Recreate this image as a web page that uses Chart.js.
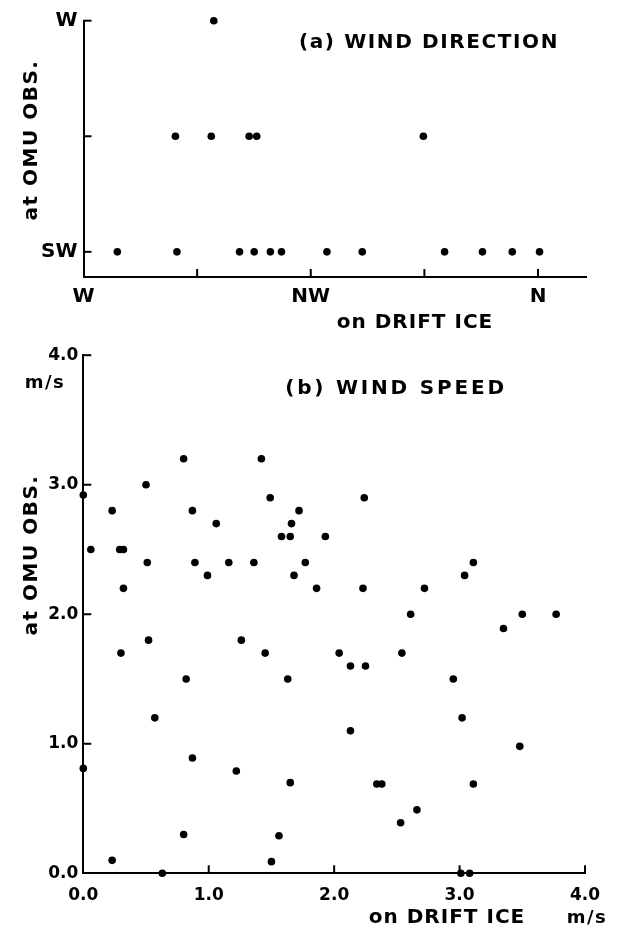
<!DOCTYPE html>
<html><head><meta charset="utf-8">
<script src="https://cdn.jsdelivr.net/npm/chart.js@4.4.0/dist/chart.umd.min.js"></script>
<style>
html,body{margin:0;padding:0;background:#fff;width:623px;height:936px;overflow:hidden}
#a{position:absolute;left:0;top:0}
#b{position:absolute;left:0;top:340px}
</style></head>
<body>
<canvas id="a" width="623" height="340"></canvas>
<canvas id="b" width="623" height="596"></canvas>
<script>
// ---------- (a) wind direction (degrees) ----------
const dirXTickValues = [270, 292.5, 315, 337.5, 360];
const dirXTickLabels = ['W', '', 'NW', '', 'N'];
const dirYTickValues = [225, 247.5, 270];
const dirYTickLabels = ['SW', '', 'W'];
const dirDriftIce = [276.7, 288.5, 300.9, 303.8, 307.0, 309.2, 318.2, 325.2, 341.5, 349.0, 354.9, 360.3,
                     288.2, 295.3, 302.8, 304.3, 337.3,
                     295.8];
const dirOmu      = [225, 225, 225, 225, 225, 225, 225, 225, 225, 225, 225, 225,
                     247.5, 247.5, 247.5, 247.5, 247.5,
                     270];

// ---------- (b) wind speed (m/s) ----------
const spdTickValues = [0, 1, 2, 3, 4];
const spdTickLabels = ['0.0', '1.0', '2.0', '3.0', '4.0'];
const spdDriftIce = [0.80,1.42,0.50,0.00,0.23,0.87,1.49,1.72,1.06,1.66,1.58,1.65,1.93,0.06,0.29,0.32,0.51,0.89,1.16,1.36,
                     1.77,0.99,1.68,0.32,1.86,0.52,1.26,0.30,1.45,0.82,1.63,0.57,0.87,0.00,1.22,1.65,0.80,1.56,0.23,1.50,
                     0.63,2.24,3.11,3.04,2.23,2.72,2.61,3.50,3.77,3.35,2.04,2.54,2.13,2.25,2.95,3.02,2.13,3.48,2.34,2.38,
                     3.11,2.66,2.53,3.01,3.08];
const spdOmu      = [3.2,3.2,3.0,2.92,2.8,2.8,2.9,2.8,2.7,2.7,2.6,2.6,2.6,2.5,2.5,2.5,2.4,2.4,2.4,2.4,
                     2.4,2.3,2.3,2.2,2.2,1.8,1.8,1.7,1.7,1.5,1.5,1.2,0.89,0.81,0.79,0.70,0.30,0.29,0.10,0.09,
                     0.00,2.9,2.4,2.3,2.2,2.2,2.0,2.0,2.0,1.89,1.7,1.7,1.6,1.6,1.5,1.2,1.1,0.98,0.69,0.69,
                     0.69,0.49,0.39,0.0,0.0];

const FONT = "'DejaVu Sans', 'Liberation Sans', sans-serif";

function pts(xs, ys) { return xs.map((x, i) => ({ x: x, y: ys[i] })); }

function decorPlugin(texts, xMarks, yMarks) {
  return {
    id: 'decor',
    afterDraw(chart) {
      const ctx = chart.ctx, xs = chart.scales.x, ys = chart.scales.y;
      const ca = chart.chartArea;
      ctx.save();
      ctx.strokeStyle = '#000';
      ctx.lineWidth = 2;
      xMarks.forEach(v => {
        const px = xs.getPixelForValue(v);
        ctx.beginPath(); ctx.moveTo(px, ca.bottom); ctx.lineTo(px, ca.bottom - 8); ctx.stroke();
      });
      yMarks.forEach(v => {
        const py = ys.getPixelForValue(v);
        ctx.beginPath(); ctx.moveTo(ca.left, py); ctx.lineTo(ca.left + 8, py); ctx.stroke();
      });
      ctx.fillStyle = '#000';
      ctx.textAlign = 'center';
      ctx.textBaseline = 'middle';
      texts.forEach(t => {
        ctx.save();
        ctx.font = 'bold ' + t.size + 'px ' + FONT;
        ctx.letterSpacing = t.ls + 'px';
        ctx.translate(t.x, t.y);
        if (t.rot) ctx.rotate(t.rot);
        ctx.fillText(t.text, 0, 0);
        ctx.restore();
      });
      ctx.restore();
    }
  };
}

function makeChart(id, cfg) {
  const xLab = (v) => { const i = cfg.xt.indexOf(v); return i >= 0 ? cfg.xl[i] : ''; };
  const yLab = (v) => { const i = cfg.yt.indexOf(v); return i >= 0 ? cfg.yl[i] : ''; };
  return new Chart(document.getElementById(id), {
    type: 'scatter',
    data: { datasets: [{
      data: pts(cfg.dx, cfg.dy),
      backgroundColor: '#000', borderColor: '#000', borderWidth: 0,
      pointRadius: 3.8, pointHoverRadius: 3.8, clip: false
    }]},
    options: {
      responsive: false, animation: false, devicePixelRatio: 1,
      layout: { autoPadding: false, padding: cfg.pad },
      plugins: { legend: { display: false }, tooltip: { enabled: false } },
      scales: {
        x: {
          type: 'linear', min: cfg.xmin, max: cfg.xmax,
          afterBuildTicks: s => { s.ticks = cfg.xt.map(v => ({ value: v })); },
          afterFit: s => { s.height = cfg.xH; },
          grid: { display: false, drawTicks: false },
          border: { display: true, color: '#000', width: 2 },
          ticks: { callback: xLab, color: '#000', padding: cfg.xPad, maxRotation: 0, autoSkip: false,
                   font: { family: FONT, size: cfg.xFs, weight: 'bold' } }
        },
        y: {
          type: 'linear', min: cfg.ymin, max: cfg.ymax,
          afterBuildTicks: s => { s.ticks = cfg.yt.map(v => ({ value: v })); },
          afterFit: s => { s.width = cfg.yW; },
          grid: { display: false, drawTicks: false },
          border: { display: true, color: '#000', width: 2 },
          ticks: { callback: yLab, color: '#000', padding: cfg.yPad, autoSkip: false,
                   font: { family: FONT, size: cfg.yFs, weight: 'bold' } }
        }
      }
    },
    plugins: [decorPlugin(cfg.texts, cfg.xMarks, cfg.yMarks)]
  });
}

makeChart('a', {
  dx: dirDriftIce, dy: dirOmu,
  xmin: 270, xmax: 369.5, ymin: 220.1, ymax: 270,
  xt: dirXTickValues, xl: dirXTickLabels, yt: dirYTickValues, yl: dirYTickLabels,
  pad: { left: 0, top: 20.7, right: 37, bottom: 3 },
  xH: 60, yW: 83.5, xPad: 8, yPad: 6, xFs: 20, yFs: 20,
  xMarks: [292.5, 315, 337.5, 360], yMarks: [225, 247.5, 270],
  texts: [
    { text: '(a) WIND DIRECTION', x: 429, y: 43, size: 20, ls: 1.6 },
    { text: 'at OMU OBS.', x: 32, y: 140, size: 20, ls: 1.5, rot: -Math.PI / 2 },
    { text: 'on DRIFT ICE', x: 415, y: 323, size: 20, ls: 1 }
  ]
});

makeChart('b', {
  dx: spdDriftIce, dy: spdOmu,
  xmin: 0, xmax: 4, ymin: 0, ymax: 4,
  xt: spdTickValues, xl: spdTickLabels, yt: spdTickValues, yl: spdTickLabels,
  pad: { left: 0, top: 12.7, right: 38, bottom: 2.7 },
  xH: 60, yW: 83.3, xPad: 12, yPad: 5, xFs: 17, yFs: 17,
  xMarks: [1, 2, 3, 4], yMarks: [1, 2, 3, 4],
  texts: [
    { text: '(b) WIND SPEED', x: 396, y: 49, size: 20, ls: 2.8 },
    { text: 'm/s', x: 45, y: 43, size: 18, ls: 1.5 },
    { text: 'at OMU OBS.', x: 32, y: 215, size: 20, ls: 1.5, rot: -Math.PI / 2 },
    { text: 'on DRIFT ICE', x: 447, y: 578, size: 20, ls: 1 },
    { text: 'm/s', x: 587, y: 578, size: 18, ls: 1.5 }
  ]
});
</script>
</body></html>
